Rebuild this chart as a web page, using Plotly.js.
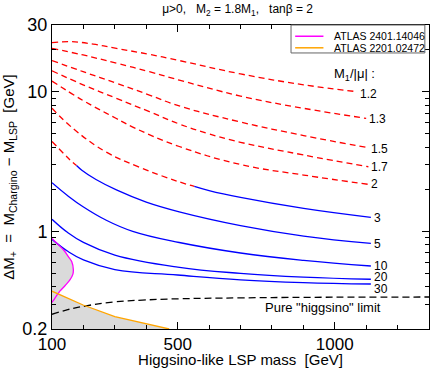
<!DOCTYPE html>
<html>
<head>
<meta charset="utf-8">
<script src="https://cdn.plot.ly/plotly-3.0.1.min.js"></script>
<style>
  body { margin: 0; background: #fff; }
  #plot { width: 432px; height: 368px; }
</style>
</head>
<body>
<div id="plot"></div>
<script>
// M1/|mu| = 1.2 ... 2 : red dashed
const x12 = [100, 157, 231, 305, 410, 505, 700, 901, 1070];
const y12 = [22.4, 22.8, 21.9, 20.4, 18.5, 16.7, 13.4, 11.2, 10.0];
const x13 = [100, 199, 305, 410, 505, 700, 901, 1100];
const y13 = [20.4, 18.3, 16.0, 13.9, 12.1, 9.3, 7.6, 6.44];
const x15 = [100, 199, 305, 410, 505, 700, 901, 1107];
const y15 = [16.7, 13.9, 11.5, 9.46, 7.9, 6.06, 4.85, 3.97];
const x17 = [100, 199, 305, 410, 505, 594, 700, 901, 1107];
const y17 = [14.1, 11.2, 8.96, 7.19, 5.87, 5.03, 4.34, 3.52, 2.9];
const x2 = [100, 199, 305, 357, 505, 700, 901, 1107];
const y2 = [11.9, 8.64, 6.42, 5.58, 4.05, 3.01, 2.53, 2.17];

// M1/|mu| = 3 and 5 : red dashed first, then blue
const x3red = [100, 173, 273, 368, 505, 553];
const y3red = [7.6, 5.31, 3.69, 2.94, 2.26, 2.1];
const x3blue = [553, 600, 700, 901, 1115];
const y3blue = [2.1, 1.96, 1.75, 1.46, 1.26];
const x5red = [100, 140, 160, 178];
const y5red = [4.4, 3.55, 3.2, 2.96];
const x5blue = [178, 195, 240, 305, 400, 505, 700, 901, 1115];
const y5blue = [2.96, 2.74, 2.35, 1.98, 1.62, 1.38, 1.1, 0.926, 0.82];

// M1/|mu| = 10, 20, 30 : blue
const x10 = [100, 150, 199, 270, 357, 505, 700, 901, 1115];
const y10 = [2.23, 1.8, 1.5, 1.21, 1.0, 0.832, 0.7, 0.62, 0.565];
const x20 = [100, 150, 200, 300, 500, 700, 900, 1115];
const y20 = [1.22, 0.98, 0.834, 0.677, 0.555, 0.5, 0.47, 0.454];
const x30 = [100, 150, 200, 300, 500, 700, 900, 1115];
const y30 = [0.877, 0.72, 0.625, 0.533, 0.487, 0.45, 0.43, 0.42];

// pure higgsino limit
const xPure = [100, 150, 205, 300, 388, 500, 700, 900, 1100, 1300];
const yPure = [0.255, 0.275, 0.292, 0.313, 0.322, 0.329, 0.334, 0.337, 0.338, 0.339];

// ATLAS exclusions
const xAtlas24 = [100, 118, 137, 152, 163, 168, 166, 157, 142, 125, 105, 100];
const yAtlas24 = [0.89, 0.81, 0.735, 0.66, 0.605, 0.53, 0.49, 0.449, 0.41, 0.373, 0.322, 0.31];
const xAtlas22 = [100, 199, 300, 400, 473];
const yAtlas22 = [0.373, 0.297, 0.245, 0.218, 0.2];

const ratioLabels = ['1.2', '1.3', '1.5', '1.7', '2', '3', '5', '10', '20', '30'];
const atlasNames = ['ATLAS 2401.14046', 'ATLAS 2201.02472'];

const FONT = 'Liberation Sans, Arial, sans-serif';
const RED = '#ff0000', BLUE = '#0000ff', MAGENTA = '#ff00ff', ORANGE = '#ffa500';

function curve(x, y, color, dash) {
    return {
        x: x, y: y, mode: 'lines', showlegend: false, hoverinfo: 'skip',
        line: { color: color, width: 1.3, dash: dash, shape: 'spline', smoothing: 1.2 }
    };
}

const grey = '#dadada';
const data = [
    // grey excluded area: left of magenta curve, below orange curve
    { x: xAtlas24, y: yAtlas24, fill: 'toself', fillcolor: grey, mode: 'none',
      line: { shape: 'spline', smoothing: 1 }, showlegend: false, hoverinfo: 'skip' },
    { x: xAtlas22.concat([xAtlas22[0]]), y: yAtlas22.concat([yAtlas22[yAtlas22.length - 1]]),
      fill: 'toself', fillcolor: grey, mode: 'none', showlegend: false, hoverinfo: 'skip' },
    curve(x12, y12, RED, '6px,4px'),
    curve(x13, y13, RED, '6px,4px'),
    curve(x15, y15, RED, '6px,4px'),
    curve(x17, y17, RED, '6px,4px'),
    curve(x2, y2, RED, '6px,4px'),
    curve(x3red, y3red, RED, '6px,4px'),
    curve(x3blue, y3blue, BLUE, 'solid'),
    curve(x5red, y5red, RED, '6px,4px'),
    curve(x5blue, y5blue, BLUE, 'solid'),
    curve(x10, y10, BLUE, 'solid'),
    curve(x20, y20, BLUE, 'solid'),
    curve(x30, y30, BLUE, 'solid'),
    curve(xPure, yPure, '#000000', '7px,4px'),
    { x: xAtlas24, y: yAtlas24, mode: 'lines', name: atlasNames[0], showlegend: false,
      line: { color: MAGENTA, width: 1.3, shape: 'spline', smoothing: 1 } },
    { x: xAtlas22, y: yAtlas22, mode: 'lines', name: atlasNames[1], showlegend: false,
      line: { color: ORANGE, width: 1.3 } }
];

// curve-end labels
const ends = [
    [x12, y12], [x13, y13], [x15, y15], [x17, y17], [x2, y2],
    [x3blue, y3blue], [x5blue, y5blue], [x10, y10], [x20, y20], [x30, y30]
];
const labelShift = [-2, -1, -1, 0, 0, -1, -1, 0, 2, -5];
const annotations = ends.map(function (e, i) {
    return {
        x: e[0][e[0].length - 1], y: Math.log10(e[1][e[1].length - 1]),
        text: ratioLabels[i], showarrow: false, xanchor: 'left', yanchor: 'middle',
        xshift: 1, yshift: labelShift[i], font: { family: FONT, size: 12, color: '#000' }
    };
});
annotations.push({
    x: 1063, y: Math.log10(13.2), text: 'M<sub>1</sub>/|μ| :', showarrow: false,
    xanchor: 'center', yanchor: 'middle', font: { family: FONT, size: 13, color: '#000' }
});
annotations.push({
    x: 964, y: Math.log10(0.283), text: 'Pure "higgsino" limit', showarrow: false,
    xanchor: 'center', yanchor: 'middle', font: { family: FONT, size: 13, color: '#000' }
});

// legend box drawn by hand (compact like the reference)
const shapes = [
    { type: 'rect', xref: 'paper', yref: 'paper', x0: 0.634, x1: 0.989, y0: 0.908, y1: 1.0,
      line: { color: '#666', width: 1 }, fillcolor: '#fff', layer: 'above' }
];
const legendRows = [0.963, 0.925];
[MAGENTA, ORANGE].forEach(function (c, i) {
    shapes.push({ type: 'line', xref: 'paper', yref: 'paper', x0: 0.645, x1: 0.72,
                  y0: legendRows[i], y1: legendRows[i], line: { color: c, width: 1.5 }, layer: 'above' });
    annotations.push({ xref: 'paper', yref: 'paper', x: 0.742, y: legendRows[i],
                       text: atlasNames[i], showarrow: false, xanchor: 'left', yanchor: 'middle',
                       font: { family: FONT, size: 10.5, color: '#000' } });
});

const layout = {
    width: 432, height: 368,
    margin: { l: 52, r: 3, t: 25, b: 39 },
    paper_bgcolor: '#fff', plot_bgcolor: '#fff',
    font: { family: FONT, color: '#000' },
    title: {
        text: 'μ>0,\u00a0\u00a0\u00a0M<sub>2</sub> = 1.8M<sub>1</sub>,\u00a0\u00a0\u00a0tanβ = 2',
        font: { family: FONT, size: 12, color: '#000' },
        x: 0.55, xanchor: 'center', y: 0.975, yanchor: 'middle'
    },
    xaxis: {
        range: [100, 1300], showgrid: false, zeroline: false,
        showline: true, linecolor: '#000', linewidth: 1, mirror: 'allticks',
        ticks: 'inside', ticklen: 7, tickcolor: '#000',
        tickmode: 'array', tickvals: [100, 500, 1000], ticktext: ['100', '500', '1000'],
        tickfont: { family: FONT, size: 17, color: '#000' },
        minor: { dtick: 100, tick0: 0, ticks: 'inside', ticklen: 4, tickcolor: '#000' },
        title: { text: 'Higgsino-like LSP mass\u00a0\u00a0[GeV]', standoff: 10,
                 font: { family: FONT, size: 15, color: '#000' } }
    },
    yaxis: {
        type: 'log', range: [Math.log10(0.2), Math.log10(30)],
        showgrid: false, zeroline: false,
        showline: true, linecolor: '#000', linewidth: 1, mirror: 'allticks',
        ticks: 'inside', ticklen: 7, tickcolor: '#000',
        tickmode: 'array', tickvals: [0.2, 1, 10, 30], ticktext: ['0.2', '1', '10', '30'],
        tickfont: { family: FONT, size: 18, color: '#000' },
        minor: { tickmode: 'array', tickvals: [0.3, 0.4, 0.5, 0.6, 0.7, 0.8, 0.9, 2, 3, 4, 5, 6, 7, 8, 9, 20],
                 ticks: 'inside', ticklen: 4, tickcolor: '#000' },
        title: { text: 'ΔM<sub>+</sub>\u00a0\u00a0=\u00a0\u00a0M<sub>Chargino</sub> − M<sub>LSP</sub>\u00a0\u00a0[GeV]',
                 standoff: 4, font: { family: FONT, size: 15, color: '#000' } }
    },
    shapes: shapes,
    annotations: annotations,
    showlegend: false
};

Plotly.newPlot('plot', data, layout, { staticPlot: true });
</script>
</body>
</html>
